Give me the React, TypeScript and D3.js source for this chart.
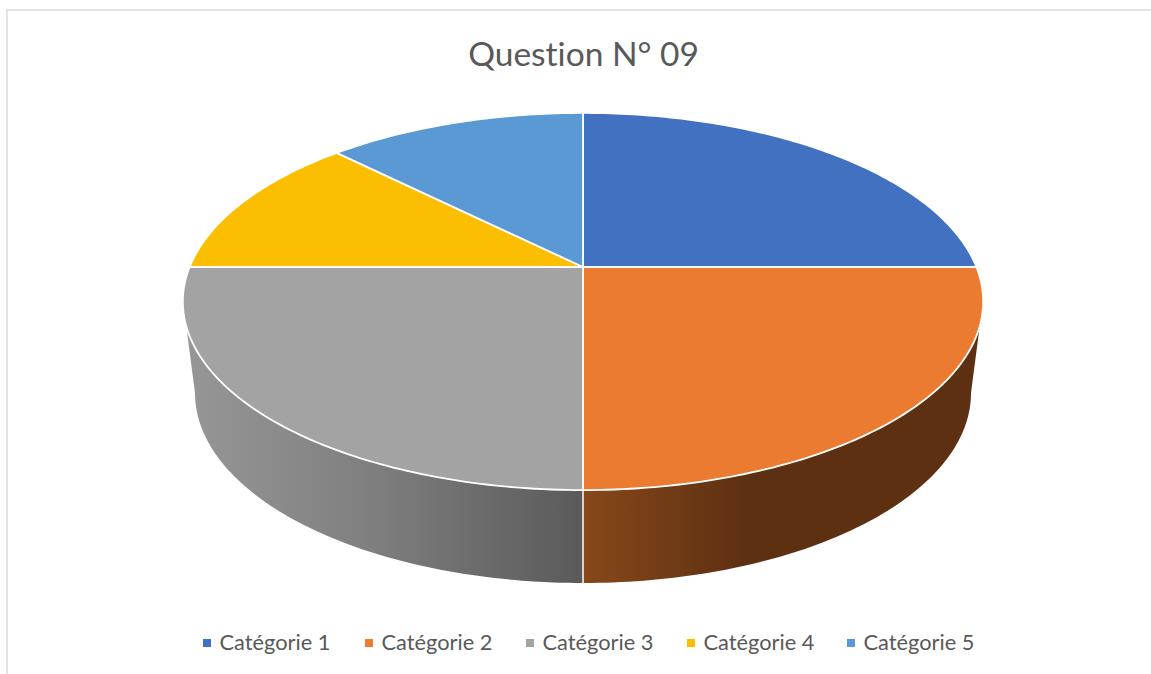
import React from "react";
import * as d3 from "d3";

const W = 1151;
const H = 674;

const TITLE = "Question N° 09";
const categories = ["Catégorie 1", "Catégorie 2", "Catégorie 3", "Catégorie 4", "Catégorie 5"];
const values = [2, 2, 2, 1, 1];
const colors = ["#4371C2", "#EB7B30", "#A3A3A3", "#FCBE00", "#5B99D4"];

// Pie plane seen in perspective: unit disc -> screen
const CX = 583;
const CY = 267;
const KX = 393.4;
const A = 133.4;
const C = -0.183;
const project = (u: number, v: number): [number, number] => {
  const w = C * v + 1;
  return [CX + (KX * u) / w, (A * v + CY) / w];
};

// Rims of the extrusion
const TOP_RIM = { cx: 583, cy: 301.5, rx: 400, ry: 188.5 };
const BOTTOM_RIM = { cx: 583, cy: 393, rx: 388, ry: 190 };

const slices = d3.pie<number>().sort(null)(values);
const toPath = d3.line();

function wedge(a0: number, a1: number) {
  const n = Math.max(2, Math.ceil((a1 - a0) * 60));
  const pts = d3.range(n + 1).map((i) => {
    const a = a0 + ((a1 - a0) * i) / n;
    return project(Math.sin(a), -Math.cos(a));
  });
  return toPath([project(0, 0), ...pts, project(0, 0)]) + "Z";
}

function rimPts(e: typeof TOP_RIM, t0: number, t1: number) {
  return d3.range(81).map((i): [number, number] => {
    const t = t0 + ((t1 - t0) * i) / 80;
    return [e.cx + e.rx * Math.sin(t), e.cy - e.ry * Math.cos(t)];
  });
}

// side walls: t runs clockwise from the top of the ellipse; dir is +1 on the right, -1 on the left
const T_TOP = 0.125;
function sidePath(dir: number) {
  const topEnd = Math.PI - dir * (Math.PI / 2 - T_TOP);
  const bottomEnd = Math.PI - dir * (Math.PI / 2);
  return toPath([...rimPts(TOP_RIM, Math.PI, topEnd), ...rimPts(BOTTOM_RIM, bottomEnd, Math.PI)]) + "Z";
}

export default function App() {
  const legendX = [203, 365, 526, 687, 847];
  return (
    <svg
      width={W}
      height={H}
      viewBox={`0 0 ${W} ${H}`}
      style={{ position: "fixed", left: 0, top: 0, background: "#fff" }}
    >
      <defs>
        <linearGradient id="sideOrange" gradientUnits="userSpaceOnUse" x1={583} x2={983} y1={0} y2={0}>
          <stop offset="0" stopColor="#87481A" />
          <stop offset="0.4" stopColor="#5E3012" />
          <stop offset="1" stopColor="#5E3012" />
        </linearGradient>
        <linearGradient id="sideGray" gradientUnits="userSpaceOnUse" x1={183} x2={583} y1={0} y2={0}>
          <stop offset="0" stopColor="#979797" />
          <stop offset="0.45" stopColor="#808080" />
          <stop offset="1" stopColor="#5A5A5A" />
        </linearGradient>
      </defs>

      <path d={`M7 ${H}V10H${W}`} fill="none" stroke="#D9D9D9" strokeWidth={1.5} />

      <text
        x={583.5}
        y={65.5}
        textAnchor="middle"
        fontFamily="Lato, sans-serif"
        fontSize={33.5}
        fill="#595959"
        style={{ fontVariantLigatures: "none" }}
      >
        {TITLE}
      </text>

      <path d={sidePath(1) ?? ""} fill="url(#sideOrange)" />
      <path d={sidePath(-1) ?? ""} fill="url(#sideGray)" />
      <path
        d={toPath([
          [TOP_RIM.cx, TOP_RIM.cy + TOP_RIM.ry],
          [BOTTOM_RIM.cx, BOTTOM_RIM.cy + BOTTOM_RIM.ry],
        ]) ?? ""}
        stroke="#fff"
        strokeWidth={1.5}
      />

      {slices.map((s, i) => (
        <path
          key={categories[i]}
          d={wedge(s.startAngle, s.endAngle) ?? ""}
          fill={colors[i]}
          stroke="#fff"
          strokeWidth={1.8}
          strokeLinejoin="round"
        />
      ))}

      {categories.map((c, i) => (
        <g key={c}>
          <rect x={legendX[i]} y={639} width={8} height={8} fill={colors[i]} />
          <text
            x={legendX[i] + 16.5}
            y={650}
            fontFamily="Lato, sans-serif"
            fontSize={21.8}
            fill="#595959"
            style={{ fontVariantLigatures: "none" }}
          >
            {c}
          </text>
        </g>
      ))}
    </svg>
  );
}
